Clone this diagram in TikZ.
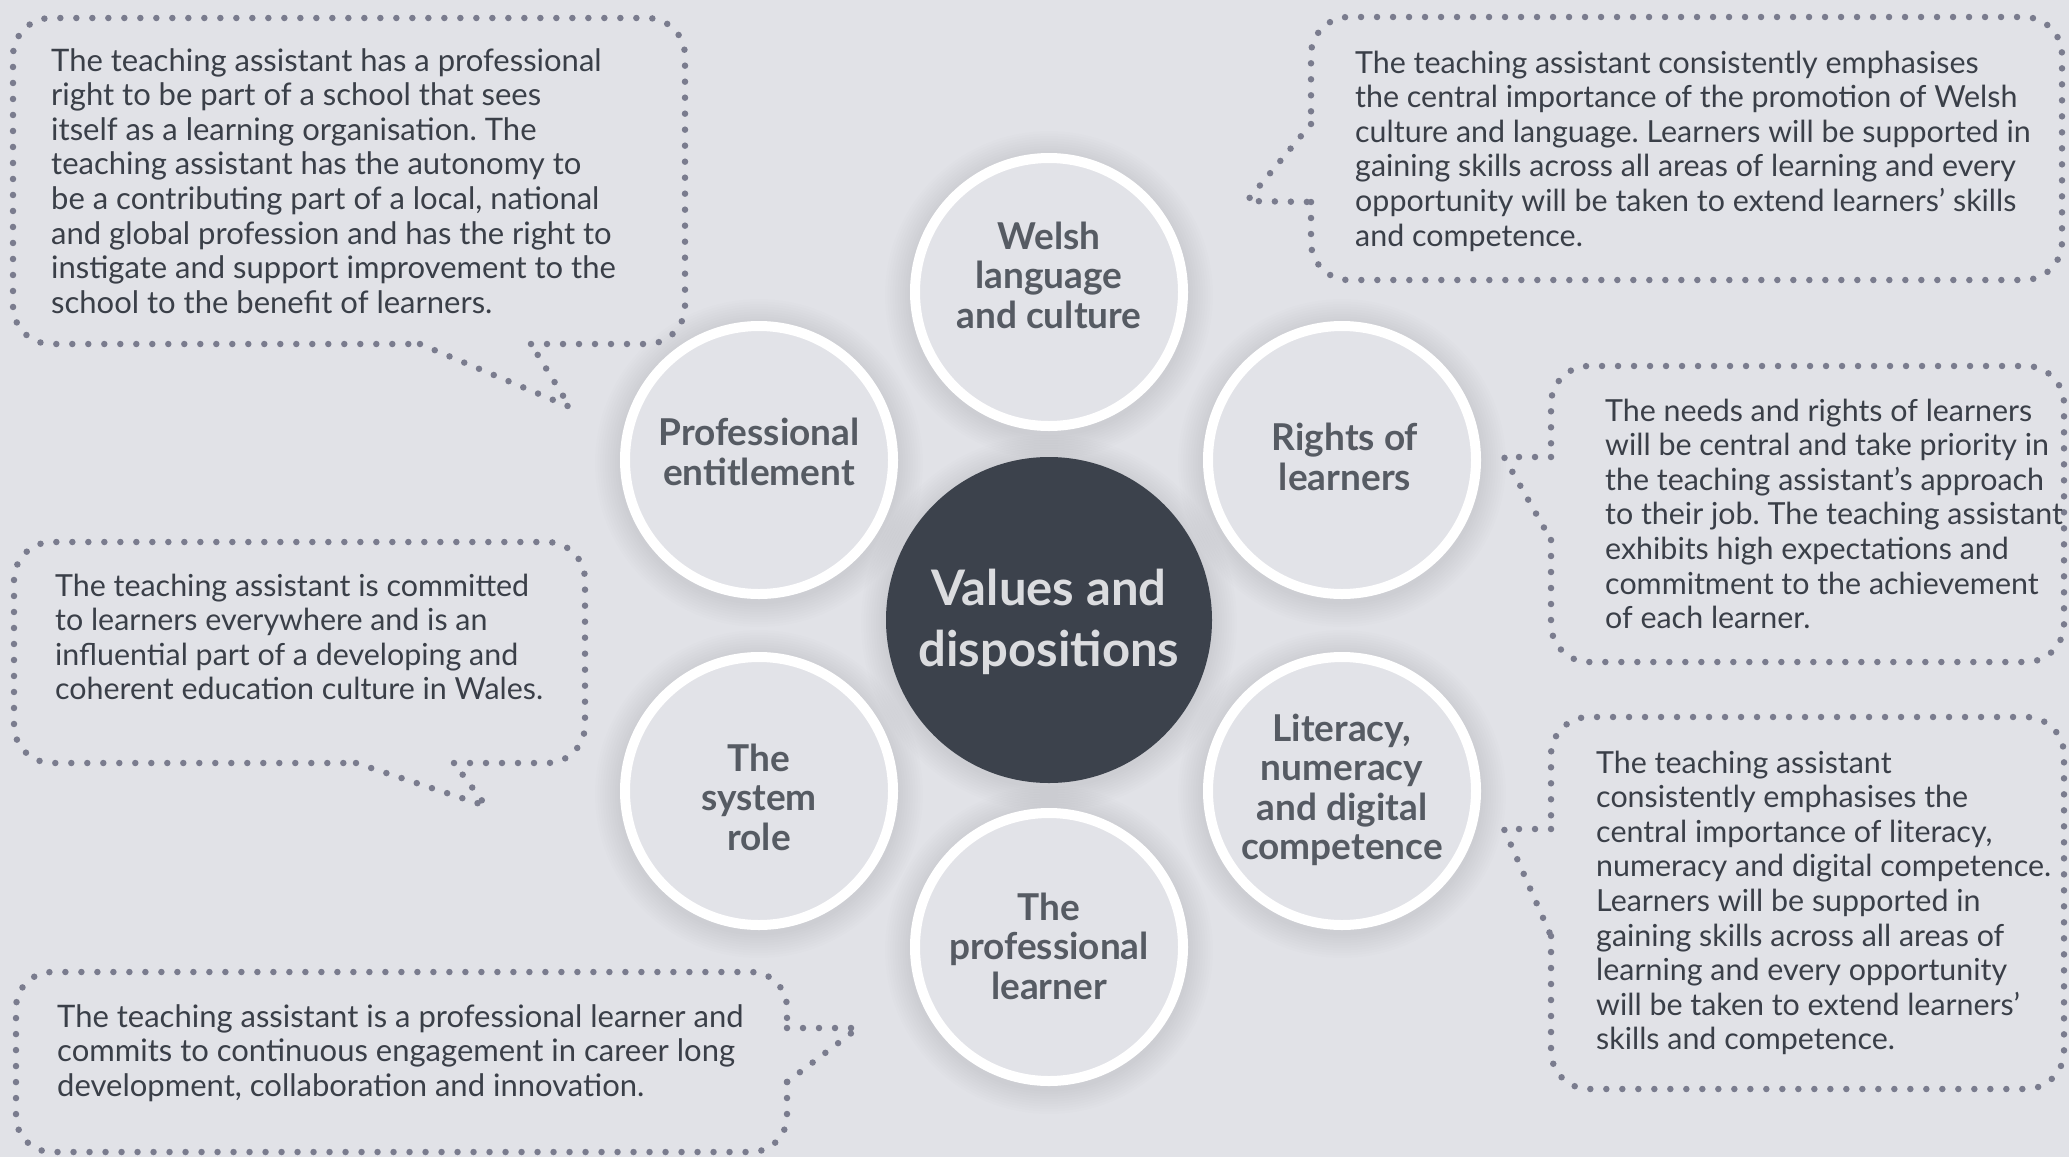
\documentclass[tikz,border=0pt]{standalone}
\usepackage{fontspec}
\setmainfont{Lato}
\usetikzlibrary{positioning}

\definecolor{bg}{RGB}{225,226,231}
\definecolor{ringfill}{RGB}{226,227,232}
\definecolor{hubfill}{RGB}{60,66,76}
\definecolor{hubfont}{RGB}{219,220,223}
\definecolor{labelgrey}{RGB}{86,91,99}
\definecolor{bodygrey}{RGB}{58,63,72}
\definecolor{dotgrey}{RGB}{122,124,142}

\tikzset{
  bubble/.style={draw=dotgrey, line width=6.5pt, line cap=round, dash pattern=on 0pt off 16pt},
  bodytext/.style={anchor=base west, inner sep=0pt, text=bodygrey, font=\frenchspacing\fontsize{31pt}{34.6pt}\selectfont},
  narrowtext/.style={bodytext, font=\frenchspacing\fontsize{30.4pt}{34.6pt}\selectfont},
  topic/.style={circle, draw=white, line width=10pt, fill=ringfill, minimum size=268pt, inner sep=0pt},
  topiclabel/.style={align=center, inner sep=0pt, text=labelgrey, font=\bfseries\fontsize{37pt}{39.5pt}\selectfont},
}

\begin{document}
\begin{tikzpicture}[x=1pt, y=-1pt]
  \useasboundingbox (0,0) rectangle (2069,1157);
  \fill[bg] (0,0) rectangle (2069,1157);

  % soft shadows round the circles
  \foreach \cx/\cy/\r in {1049/292/139, 759/460/139, 1342/460/139, 759/791/139, 1342/791/139, 1049/947/139, 1049/620/163}
  {
  \foreach \k in {1,...,10}
    \fill[black, opacity=0.009] (\cx,\cy+3) circle[radius=\r pt+2.5pt*\k];
  }

  % circles
  \node[topic] (welsh) at (1049,292) {};
  \node[topic] (entitlement) at (759,460) {};
  \node[topic] (rights) at (1342,460) {};
  \node[topic] (system) at (759,791) {};
  \node[topic] (literacy) at (1342,791) {};
  \node[topic] (learner) at (1049,947) {};
  \node[circle, fill=hubfill, minimum size=326pt, inner sep=0pt] (hub) at (1049,620) {};

  \node[topiclabel] (welshtext) at (1049,275) {Welsh\\language\\and culture};
  \node[topiclabel] (entitlementtext) at (759,452) {Professional\\entitlement};
  \node[topiclabel] (rightstext) at (1345,457) {Rights of\\learners};
  \node[topiclabel] (systemtext) at (759,797) {The\\system\\role};
  \node[topiclabel] (literacytext) at (1342,790) {Literacy,\\numeracy\\and digital\\competence};
  \node[topiclabel] (learnertext) at (1049,946) {The\\professional\\learner};
  \node[align=center, inner sep=0pt, text=hubfont, font=\bfseries\fontsize{49pt}{61pt}\selectfont] (hubtext) at (1049,622) {Values and\\dispositions};

  % speech bubbles
  \draw[bubble, rounded corners=38pt] (531,344) -- (685,344) -- (685,18) -- (13,18) -- (13,344) -- (420,344);
  \draw[bubble] (420,344) -- (570,407) -- (531,344);

  \draw[bubble, rounded corners=38pt] (1311,202) -- (1311,280) -- (2062,280) -- (2062,17) -- (1311,17) -- (1311,124);
  \draw[bubble] (1311,124) -- (1247,201) -- (1311,202);

  \draw[bubble, rounded corners=38pt] (1551,540) -- (1551,662) -- (2064,662) -- (2064,366) -- (1551,366) -- (1551,457);
  \draw[bubble] (1551,457) -- (1504,457) -- (1551,540);

  \draw[bubble, rounded corners=38pt] (454,763) -- (585,763) -- (585,542) -- (14,542) -- (14,763) -- (356,763);
  \draw[bubble] (356,763) -- (486,806) -- (454,763);

  \draw[bubble, rounded corners=38pt] (1551,936) -- (1551,1089) -- (2064,1089) -- (2064,717) -- (1551,717) -- (1551,829);
  \draw[bubble] (1551,829) -- (1504,829) -- (1551,936);

  \draw[bubble, rounded corners=36pt] (787,1082) -- (787,1152) -- (16,1152) -- (16,972) -- (787,972) -- (787,1028);
  \draw[bubble] (787,1028) -- (858,1028) -- (787,1082);

  % bubble texts
  \node[bodytext] (entitlementnote) at (51,71) {\parbox[t]{760pt}{The teaching assistant has a professional\\
    right to be part of a school that sees\\
    itself as a learning organisation. The\\
    teaching assistant has the autonomy to\\
    be a contributing part of a local, national\\
    and global profession and has the right to\\
    instigate and support improvement to the\\
    school to the benefit of learners.}};
  \node[narrowtext] (welshnote) at (1355,73) {\parbox[t]{760pt}{The teaching assistant consistently emphasises\\
    the central importance of the promotion of Welsh\\
    culture and language. Learners will be supported in\\
    gaining skills across all areas of learning and every\\
    opportunity will be taken to extend learners’ skills\\
    and competence.}};
  \node[narrowtext] (rightsnote) at (1605,421) {\parbox[t]{760pt}{The needs and rights of learners\\
    will be central and take priority in\\
    the teaching assistant’s approach\\
    to their job. The teaching assistant\\
    exhibits high expectations and\\
    commitment to the achievement\\
    of each learner.}};
  \node[narrowtext] (systemnote) at (55,596) {\parbox[t]{760pt}{The teaching assistant is committed\\
    to learners everywhere and is an\\
    influential part of a developing and\\
    coherent education culture in Wales.}};
  \node[narrowtext] (literacynote) at (1596,773) {\parbox[t]{760pt}{The teaching assistant\\
    consistently emphasises the\\
    central importance of literacy,\\
    numeracy and digital competence.\\
    Learners will be supported in\\
    gaining skills across all areas of\\
    learning and every opportunity\\
    will be taken to extend learners’\\
    skills and competence.}};
  \node[bodytext] (learnernote) at (57,1027) {\parbox[t]{760pt}{The teaching assistant is a professional learner and\\
    commits to continuous engagement in career long\\
    development, collaboration and innovation.}};
\end{tikzpicture}
\end{document}
